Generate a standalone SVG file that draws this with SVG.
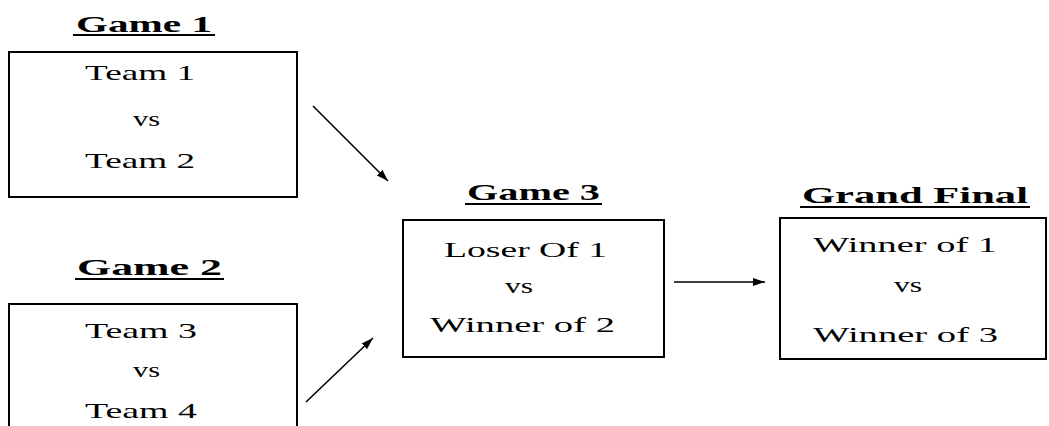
<svg xmlns="http://www.w3.org/2000/svg" width="1049" height="426" viewBox="0 0 1049 426">
<style>
.box{fill:#fff;stroke:#000;stroke-width:2}
.t{font-family:"Liberation Serif","Times New Roman",serif;font-size:22px;fill:#000}
.h{font-family:"Liberation Serif","Times New Roman",serif;font-size:23px;font-weight:bold;fill:#000}
.u{stroke:#000;stroke-width:2}
.c{stroke:#000;stroke-width:1.6;fill:none}
</style>
<defs>
<marker id="ah" viewBox="0 0 12 8" refX="12" refY="4" markerWidth="12" markerHeight="8" markerUnits="userSpaceOnUse" orient="auto">
<path d="M0,0 L12,4 L0,8 Z" fill="#000"/>
</marker>
</defs>
<rect width="1049" height="426" fill="#fff"/>
<g id="game1">
<text class="h" x="76" y="32" textLength="136" lengthAdjust="spacingAndGlyphs">Game 1</text>
<line class="u" x1="73" y1="35" x2="215" y2="35"/>
<rect class="box" x="9" y="52" width="288" height="145"/>
<text class="t" x="85" y="80" textLength="110" lengthAdjust="spacingAndGlyphs">Team 1</text>
<text class="t" x="133" y="126" textLength="27" lengthAdjust="spacingAndGlyphs">vs</text>
<text class="t" x="85" y="168" textLength="110" lengthAdjust="spacingAndGlyphs">Team 2</text>
</g>
<g id="game2">
<text class="h" x="77" y="275" textLength="145" lengthAdjust="spacingAndGlyphs">Game 2</text>
<line class="u" x1="75" y1="279" x2="224" y2="279"/>
<rect class="box" x="9" y="304" width="288" height="140"/>
<text class="t" x="85" y="338" textLength="112" lengthAdjust="spacingAndGlyphs">Team 3</text>
<text class="t" x="133" y="377" textLength="27" lengthAdjust="spacingAndGlyphs">vs</text>
<text class="t" x="85" y="418" textLength="112" lengthAdjust="spacingAndGlyphs">Team 4</text>
</g>
<g id="game3">
<text class="h" x="467" y="200" textLength="133" lengthAdjust="spacingAndGlyphs">Game 3</text>
<line class="u" x1="465" y1="204" x2="602" y2="204"/>
<rect class="box" x="403" y="220" width="261" height="137"/>
<text class="t" x="444" y="257" textLength="163" lengthAdjust="spacingAndGlyphs">Loser Of 1</text>
<text class="t" x="505" y="293" textLength="28" lengthAdjust="spacingAndGlyphs">vs</text>
<text class="t" x="430" y="332" textLength="185" lengthAdjust="spacingAndGlyphs">Winner of  2</text>
</g>
<g id="grandfinal">
<text class="h" x="802" y="203" textLength="226" lengthAdjust="spacingAndGlyphs">Grand Final</text>
<line class="u" x1="800" y1="207" x2="1030" y2="207"/>
<rect class="box" x="780" y="218" width="266" height="141"/>
<text class="t" x="813" y="252" textLength="184" lengthAdjust="spacingAndGlyphs">Winner of 1</text>
<text class="t" x="894" y="292" textLength="28" lengthAdjust="spacingAndGlyphs">vs</text>
<text class="t" x="813" y="342" textLength="185" lengthAdjust="spacingAndGlyphs">Winner of 3</text>
</g>
<g id="connectors">
<line class="c" x1="313" y1="106" x2="388" y2="181" marker-end="url(#ah)"/>
<line class="c" x1="306" y1="402" x2="373" y2="338" marker-end="url(#ah)"/>
<line class="c" x1="674" y1="282" x2="765" y2="282" marker-end="url(#ah)"/>
</g>
</svg>
